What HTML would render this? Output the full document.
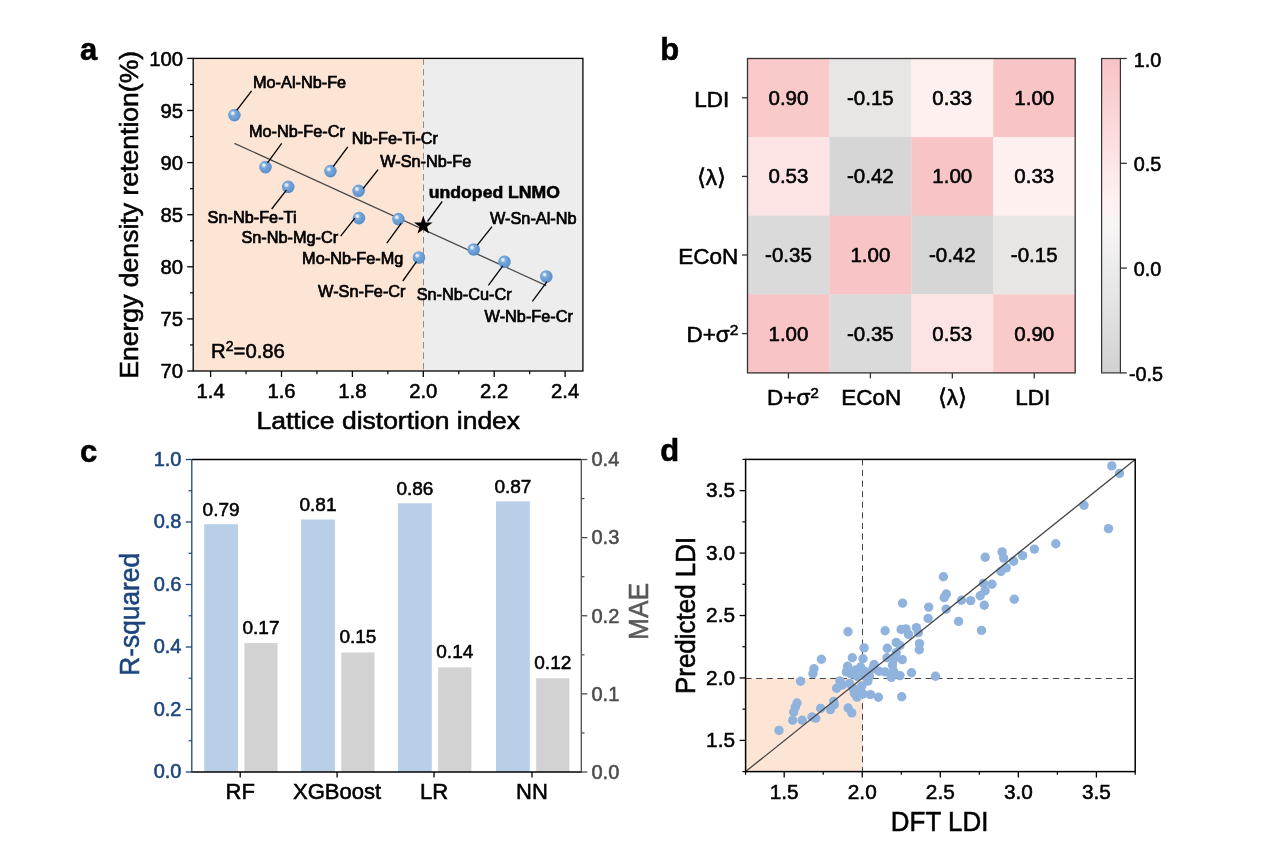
<!DOCTYPE html>
<html><head><meta charset="utf-8"><title>Figure</title>
<style>html,body{margin:0;padding:0;background:#fff}svg{display:block}text{font-family:"Liberation Sans",sans-serif}</style>
</head><body>
<svg width="1269" height="855" viewBox="0 0 1269 855" font-family="Liberation Sans, sans-serif">
<defs>
<radialGradient id="sph" cx="0.4" cy="0.38" r="0.65" fx="0.36" fy="0.34">
<stop offset="0" stop-color="#ffffff"/><stop offset="0.13" stop-color="#d3e4f5"/><stop offset="0.34" stop-color="#79a8da"/><stop offset="1" stop-color="#588dc9"/>
</radialGradient>
<linearGradient id="cb" x1="0" y1="0" x2="0" y2="1">
<stop offset="0" stop-color="#f9c2c5"/><stop offset="0.313" stop-color="#fde4e4"/><stop offset="0.447" stop-color="#fef1f0"/><stop offset="0.533" stop-color="#f8f5f5"/><stop offset="0.667" stop-color="#ecebeb"/><stop offset="0.767" stop-color="#e6e5e5"/><stop offset="1" stop-color="#d1d1d1"/>
</linearGradient>
</defs>
<rect x="0.00" y="0.00" width="1269.00" height="855.00" fill="#fff" stroke="none" stroke-width="0"/>
<rect x="193.20" y="58.40" width="230.10" height="312.60" fill="#fde5d5" stroke="none" stroke-width="0"/>
<rect x="423.30" y="58.40" width="159.60" height="312.60" fill="#ededed" stroke="none" stroke-width="0"/>
<line x1="423.50" y1="58.40" x2="423.50" y2="371.00" stroke="#8c8c8c" stroke-width="1" stroke-dasharray="6.5 4"/>
<line x1="234.40" y1="143.30" x2="546.30" y2="285.60" stroke="#4a4a4a" stroke-width="1.3"/>
<circle cx="234.4" cy="115.1" r="6.3" fill="url(#sph)"/>
<circle cx="265.5" cy="167.10000000000002" r="6.3" fill="url(#sph)"/>
<circle cx="288.2" cy="186.9" r="6.3" fill="url(#sph)"/>
<circle cx="330.4" cy="171.10000000000002" r="6.3" fill="url(#sph)"/>
<circle cx="358.6" cy="190.9" r="6.3" fill="url(#sph)"/>
<circle cx="359" cy="218.10000000000002" r="6.3" fill="url(#sph)"/>
<circle cx="398.4" cy="219.10000000000002" r="6.3" fill="url(#sph)"/>
<circle cx="418.9" cy="257.5" r="6.3" fill="url(#sph)"/>
<circle cx="473.7" cy="249.5" r="6.3" fill="url(#sph)"/>
<circle cx="504.5" cy="261.8" r="6.3" fill="url(#sph)"/>
<circle cx="546.3" cy="276.5" r="6.3" fill="url(#sph)"/>
<line x1="236.70" y1="110.40" x2="251.60" y2="90.80" stroke="#000" stroke-width="1.3"/>
<line x1="267.50" y1="162.90" x2="281.70" y2="143.30" stroke="#000" stroke-width="1.3"/>
<line x1="333.20" y1="166.50" x2="347.80" y2="146.90" stroke="#000" stroke-width="1.3"/>
<line x1="363.20" y1="188.50" x2="378.10" y2="169.60" stroke="#000" stroke-width="1.3"/>
<line x1="286.40" y1="190.10" x2="271.70" y2="209.00" stroke="#000" stroke-width="1.3"/>
<line x1="354.80" y1="218.20" x2="340.70" y2="236.10" stroke="#000" stroke-width="1.3"/>
<line x1="401.20" y1="223.40" x2="386.80" y2="243.20" stroke="#000" stroke-width="1.3"/>
<line x1="416.50" y1="261.70" x2="402.80" y2="281.00" stroke="#000" stroke-width="1.3"/>
<line x1="477.30" y1="245.10" x2="492.00" y2="226.70" stroke="#000" stroke-width="1.3"/>
<line x1="502.80" y1="265.90" x2="488.40" y2="285.30" stroke="#000" stroke-width="1.3"/>
<line x1="547.00" y1="281.70" x2="532.40" y2="301.40" stroke="#000" stroke-width="1.3"/>
<line x1="442.20" y1="201.50" x2="427.50" y2="221.50" stroke="#000" stroke-width="1.3"/>
<polygon points="423.30,215.80 425.59,222.44 432.62,222.57 427.01,226.81 429.06,233.53 423.30,229.50 417.54,233.53 419.59,226.81 413.98,222.57 421.01,222.44" fill="#000"/>
<text x="253.00" y="88.10" font-size="16.3" text-anchor="start" fill="#000" stroke="#000" stroke-width="0.7">Mo-Al-Nb-Fe</text>
<text x="249.00" y="137.30" font-size="16.3" text-anchor="start" fill="#000" stroke="#000" stroke-width="0.7">Mo-Nb-Fe-Cr</text>
<text x="351.80" y="144.30" font-size="16.3" text-anchor="start" fill="#000" stroke="#000" stroke-width="0.7">Nb-Fe-Ti-Cr</text>
<text x="380.20" y="167.30" font-size="16.3" text-anchor="start" fill="#000" stroke="#000" stroke-width="0.7">W-Sn-Nb-Fe</text>
<text x="207.60" y="223.30" font-size="16.3" text-anchor="start" fill="#000" stroke="#000" stroke-width="0.7">Sn-Nb-Fe-Ti</text>
<text x="241.40" y="243.10" font-size="16.3" text-anchor="start" fill="#000" stroke="#000" stroke-width="0.7">Sn-Nb-Mg-Cr</text>
<text x="302.10" y="264.10" font-size="16.3" text-anchor="start" fill="#000" stroke="#000" stroke-width="0.7">Mo-Nb-Fe-Mg</text>
<text x="318.10" y="297.40" font-size="16.3" text-anchor="start" fill="#000" stroke="#000" stroke-width="0.7">W-Sn-Fe-Cr</text>
<text x="490.00" y="224.20" font-size="16.3" text-anchor="start" fill="#000" stroke="#000" stroke-width="0.7">W-Sn-Al-Nb</text>
<text x="416.70" y="299.60" font-size="16.3" text-anchor="start" fill="#000" stroke="#000" stroke-width="0.7">Sn-Nb-Cu-Cr</text>
<text x="484.60" y="322.00" font-size="16.3" text-anchor="start" fill="#000" stroke="#000" stroke-width="0.7">W-Nb-Fe-Cr</text>
<text x="428.80" y="198.20" font-size="16.5" text-anchor="start" fill="#000" font-weight="bold" textLength="131.20" lengthAdjust="spacingAndGlyphs" stroke="#000" stroke-width="0.55">undoped LNMO</text>
<text x="211.1" y="358.1" font-size="20.3" stroke="#000" stroke-width="0.55">R<tspan font-size="14" dy="-7.2">2</tspan><tspan dy="7.2">=0.86</tspan></text>
<rect x="193.20" y="58.40" width="389.70" height="312.60" fill="none" stroke="#000" stroke-width="1.3"/>
<line x1="187.20" y1="371.00" x2="193.20" y2="371.00" stroke="#000" stroke-width="1.3"/>
<text x="183.00" y="378.10" font-size="20.3" text-anchor="end" fill="#000" stroke="#000" stroke-width="0.55">70</text>
<line x1="187.20" y1="318.90" x2="193.20" y2="318.90" stroke="#000" stroke-width="1.3"/>
<text x="183.00" y="326.00" font-size="20.3" text-anchor="end" fill="#000" stroke="#000" stroke-width="0.55">75</text>
<line x1="187.20" y1="266.80" x2="193.20" y2="266.80" stroke="#000" stroke-width="1.3"/>
<text x="183.00" y="273.90" font-size="20.3" text-anchor="end" fill="#000" stroke="#000" stroke-width="0.55">80</text>
<line x1="187.20" y1="214.70" x2="193.20" y2="214.70" stroke="#000" stroke-width="1.3"/>
<text x="183.00" y="221.80" font-size="20.3" text-anchor="end" fill="#000" stroke="#000" stroke-width="0.55">85</text>
<line x1="187.20" y1="162.60" x2="193.20" y2="162.60" stroke="#000" stroke-width="1.3"/>
<text x="183.00" y="169.70" font-size="20.3" text-anchor="end" fill="#000" stroke="#000" stroke-width="0.55">90</text>
<line x1="187.20" y1="110.50" x2="193.20" y2="110.50" stroke="#000" stroke-width="1.3"/>
<text x="183.00" y="117.60" font-size="20.3" text-anchor="end" fill="#000" stroke="#000" stroke-width="0.55">95</text>
<line x1="187.20" y1="58.40" x2="193.20" y2="58.40" stroke="#000" stroke-width="1.3"/>
<text x="183.00" y="65.50" font-size="20.3" text-anchor="end" fill="#000" stroke="#000" stroke-width="0.55">100</text>
<line x1="190.00" y1="344.95" x2="193.20" y2="344.95" stroke="#000" stroke-width="1.2"/>
<line x1="190.00" y1="292.85" x2="193.20" y2="292.85" stroke="#000" stroke-width="1.2"/>
<line x1="190.00" y1="240.75" x2="193.20" y2="240.75" stroke="#000" stroke-width="1.2"/>
<line x1="190.00" y1="188.65" x2="193.20" y2="188.65" stroke="#000" stroke-width="1.2"/>
<line x1="190.00" y1="136.55" x2="193.20" y2="136.55" stroke="#000" stroke-width="1.2"/>
<line x1="190.00" y1="84.45" x2="193.20" y2="84.45" stroke="#000" stroke-width="1.2"/>
<line x1="210.60" y1="371.00" x2="210.60" y2="377.00" stroke="#000" stroke-width="1.3"/>
<text x="210.60" y="398.00" font-size="20.3" text-anchor="middle" fill="#000" stroke="#000" stroke-width="0.55">1.4</text>
<line x1="281.50" y1="371.00" x2="281.50" y2="377.00" stroke="#000" stroke-width="1.3"/>
<text x="281.50" y="398.00" font-size="20.3" text-anchor="middle" fill="#000" stroke="#000" stroke-width="0.55">1.6</text>
<line x1="352.40" y1="371.00" x2="352.40" y2="377.00" stroke="#000" stroke-width="1.3"/>
<text x="352.40" y="398.00" font-size="20.3" text-anchor="middle" fill="#000" stroke="#000" stroke-width="0.55">1.8</text>
<line x1="423.30" y1="371.00" x2="423.30" y2="377.00" stroke="#000" stroke-width="1.3"/>
<text x="423.30" y="398.00" font-size="20.3" text-anchor="middle" fill="#000" stroke="#000" stroke-width="0.55">2.0</text>
<line x1="494.20" y1="371.00" x2="494.20" y2="377.00" stroke="#000" stroke-width="1.3"/>
<text x="494.20" y="398.00" font-size="20.3" text-anchor="middle" fill="#000" stroke="#000" stroke-width="0.55">2.2</text>
<line x1="565.10" y1="371.00" x2="565.10" y2="377.00" stroke="#000" stroke-width="1.3"/>
<text x="565.10" y="398.00" font-size="20.3" text-anchor="middle" fill="#000" stroke="#000" stroke-width="0.55">2.4</text>
<line x1="246.05" y1="371.00" x2="246.05" y2="374.20" stroke="#000" stroke-width="1.2"/>
<line x1="316.95" y1="371.00" x2="316.95" y2="374.20" stroke="#000" stroke-width="1.2"/>
<line x1="387.85" y1="371.00" x2="387.85" y2="374.20" stroke="#000" stroke-width="1.2"/>
<line x1="458.75" y1="371.00" x2="458.75" y2="374.20" stroke="#000" stroke-width="1.2"/>
<line x1="529.65" y1="371.00" x2="529.65" y2="374.20" stroke="#000" stroke-width="1.2"/>
<text x="388.30" y="429.10" font-size="24.2" text-anchor="middle" fill="#000" textLength="263.60" lengthAdjust="spacingAndGlyphs" stroke="#000" stroke-width="0.55">Lattice distortion index</text>
<text x="138.00" y="214.80" font-size="25" text-anchor="middle" fill="#000" textLength="328.00" lengthAdjust="spacingAndGlyphs" transform="rotate(-90 138.00 214.80)" stroke="#000" stroke-width="0.55">Energy density retention(%)</text>
<text x="80.00" y="59.80" font-size="31" text-anchor="start" fill="#000" font-weight="bold" stroke="#000" stroke-width="0.55">a</text>
<rect x="747.50" y="58.50" width="82.23" height="78.90" fill="#facacb" stroke="none" stroke-width="0"/>
<rect x="829.42" y="58.50" width="82.23" height="78.90" fill="#e8e6e5" stroke="none" stroke-width="0"/>
<rect x="911.35" y="58.50" width="82.23" height="78.90" fill="#fef0ef" stroke="none" stroke-width="0"/>
<rect x="993.28" y="58.50" width="82.23" height="78.90" fill="#f9c4c6" stroke="none" stroke-width="0"/>
<rect x="747.50" y="137.10" width="82.23" height="78.90" fill="#fde4e4" stroke="none" stroke-width="0"/>
<rect x="829.42" y="137.10" width="82.23" height="78.90" fill="#d6d6d6" stroke="none" stroke-width="0"/>
<rect x="911.35" y="137.10" width="82.23" height="78.90" fill="#f9c4c6" stroke="none" stroke-width="0"/>
<rect x="993.28" y="137.10" width="82.23" height="78.90" fill="#fef0ef" stroke="none" stroke-width="0"/>
<rect x="747.50" y="215.70" width="82.23" height="78.90" fill="#dadada" stroke="none" stroke-width="0"/>
<rect x="829.42" y="215.70" width="82.23" height="78.90" fill="#f9c4c6" stroke="none" stroke-width="0"/>
<rect x="911.35" y="215.70" width="82.23" height="78.90" fill="#d6d6d6" stroke="none" stroke-width="0"/>
<rect x="993.28" y="215.70" width="82.23" height="78.90" fill="#e8e6e5" stroke="none" stroke-width="0"/>
<rect x="747.50" y="294.30" width="82.23" height="78.90" fill="#f9c4c6" stroke="none" stroke-width="0"/>
<rect x="829.42" y="294.30" width="82.23" height="78.90" fill="#dadada" stroke="none" stroke-width="0"/>
<rect x="911.35" y="294.30" width="82.23" height="78.90" fill="#fde4e4" stroke="none" stroke-width="0"/>
<rect x="993.28" y="294.30" width="82.23" height="78.90" fill="#facacb" stroke="none" stroke-width="0"/>
<text x="788.46" y="104.80" font-size="20.5" text-anchor="middle" fill="#000" stroke="#000" stroke-width="0.55">0.90</text>
<text x="870.39" y="104.80" font-size="20.5" text-anchor="middle" fill="#000" stroke="#000" stroke-width="0.55">-0.15</text>
<text x="952.31" y="104.80" font-size="20.5" text-anchor="middle" fill="#000" stroke="#000" stroke-width="0.55">0.33</text>
<text x="1034.24" y="104.80" font-size="20.5" text-anchor="middle" fill="#000" stroke="#000" stroke-width="0.55">1.00</text>
<text x="788.46" y="183.40" font-size="20.5" text-anchor="middle" fill="#000" stroke="#000" stroke-width="0.55">0.53</text>
<text x="870.39" y="183.40" font-size="20.5" text-anchor="middle" fill="#000" stroke="#000" stroke-width="0.55">-0.42</text>
<text x="952.31" y="183.40" font-size="20.5" text-anchor="middle" fill="#000" stroke="#000" stroke-width="0.55">1.00</text>
<text x="1034.24" y="183.40" font-size="20.5" text-anchor="middle" fill="#000" stroke="#000" stroke-width="0.55">0.33</text>
<text x="788.46" y="262.00" font-size="20.5" text-anchor="middle" fill="#000" stroke="#000" stroke-width="0.55">-0.35</text>
<text x="870.39" y="262.00" font-size="20.5" text-anchor="middle" fill="#000" stroke="#000" stroke-width="0.55">1.00</text>
<text x="952.31" y="262.00" font-size="20.5" text-anchor="middle" fill="#000" stroke="#000" stroke-width="0.55">-0.42</text>
<text x="1034.24" y="262.00" font-size="20.5" text-anchor="middle" fill="#000" stroke="#000" stroke-width="0.55">-0.15</text>
<text x="788.46" y="340.60" font-size="20.5" text-anchor="middle" fill="#000" stroke="#000" stroke-width="0.55">1.00</text>
<text x="870.39" y="340.60" font-size="20.5" text-anchor="middle" fill="#000" stroke="#000" stroke-width="0.55">-0.35</text>
<text x="952.31" y="340.60" font-size="20.5" text-anchor="middle" fill="#000" stroke="#000" stroke-width="0.55">0.53</text>
<text x="1034.24" y="340.60" font-size="20.5" text-anchor="middle" fill="#000" stroke="#000" stroke-width="0.55">0.90</text>
<rect x="747.50" y="58.50" width="327.70" height="314.40" fill="none" stroke="#333" stroke-width="1.3"/>
<line x1="742.00" y1="97.80" x2="747.50" y2="97.80" stroke="#333" stroke-width="1.3"/>
<text x="729.30" y="106.60" font-size="22.5" text-anchor="end" fill="#000" stroke="#000" stroke-width="0.55">LDI</text>
<line x1="742.00" y1="176.40" x2="747.50" y2="176.40" stroke="#333" stroke-width="1.3"/>
<text x="726.00" y="185.20" font-size="22.5" text-anchor="end" fill="#000" stroke="#000" stroke-width="0.55">⟨λ⟩</text>
<line x1="742.00" y1="255.00" x2="747.50" y2="255.00" stroke="#333" stroke-width="1.3"/>
<text x="738.30" y="263.80" font-size="22.5" text-anchor="end" fill="#000" stroke="#000" stroke-width="0.55">ECoN</text>
<line x1="742.00" y1="333.60" x2="747.50" y2="333.60" stroke="#333" stroke-width="1.3"/>
<text x="738.3" y="342.40" font-size="22.5" text-anchor="end" stroke="#000" stroke-width="0.55">D+σ<tspan font-size="15.5" dy="-7.5">2</tspan></text>
<line x1="788.46" y1="372.90" x2="788.46" y2="378.40" stroke="#333" stroke-width="1.3"/>
<text x="767" y="405" font-size="22.5" text-anchor="start" stroke="#000" stroke-width="0.55">D+σ<tspan font-size="15.5" dy="-7.5">2</tspan></text>
<line x1="870.39" y1="372.90" x2="870.39" y2="378.40" stroke="#333" stroke-width="1.3"/>
<text x="871.19" y="405.00" font-size="22.5" text-anchor="middle" fill="#000" stroke="#000" stroke-width="0.55">ECoN</text>
<line x1="952.31" y1="372.90" x2="952.31" y2="378.40" stroke="#333" stroke-width="1.3"/>
<text x="952.31" y="405.00" font-size="22.5" text-anchor="middle" fill="#000" stroke="#000" stroke-width="0.55">⟨λ⟩</text>
<line x1="1034.24" y1="372.90" x2="1034.24" y2="378.40" stroke="#333" stroke-width="1.3"/>
<text x="1032.74" y="405.00" font-size="22.5" text-anchor="middle" fill="#000" stroke="#000" stroke-width="0.55">LDI</text>
<rect x="1101.60" y="58.50" width="18.80" height="314.40" fill="url(#cb)" stroke="#333" stroke-width="1.2"/>
<line x1="1120.40" y1="58.50" x2="1126.80" y2="58.50" stroke="#333" stroke-width="1.3"/>
<text x="1147.50" y="66.50" font-size="19.8" text-anchor="middle" fill="#000" stroke="#000" stroke-width="0.55">1.0</text>
<line x1="1120.40" y1="163.30" x2="1126.80" y2="163.30" stroke="#333" stroke-width="1.3"/>
<text x="1147.50" y="171.30" font-size="19.8" text-anchor="middle" fill="#000" stroke="#000" stroke-width="0.55">0.5</text>
<line x1="1120.40" y1="268.10" x2="1126.80" y2="268.10" stroke="#333" stroke-width="1.3"/>
<text x="1147.50" y="276.10" font-size="19.8" text-anchor="middle" fill="#000" stroke="#000" stroke-width="0.55">0.0</text>
<line x1="1120.40" y1="372.90" x2="1126.80" y2="372.90" stroke="#333" stroke-width="1.3"/>
<text x="1146.00" y="380.90" font-size="19.8" text-anchor="middle" fill="#000" stroke="#000" stroke-width="0.55">-0.5</text>
<text x="660.30" y="60.20" font-size="31" text-anchor="start" fill="#000" font-weight="bold" stroke="#000" stroke-width="0.55">b</text>
<rect x="204.20" y="524.19" width="33.80" height="247.81" fill="#b9cfe8" stroke="none" stroke-width="0"/>
<text x="221.10" y="515.89" font-size="19" text-anchor="middle" fill="#000" stroke="#000" stroke-width="0.55">0.79</text>
<rect x="244.40" y="643.09" width="33.20" height="128.91" fill="#d2d2d2" stroke="none" stroke-width="0"/>
<text x="261.00" y="633.59" font-size="19" text-anchor="middle" fill="#000" stroke="#000" stroke-width="0.55">0.17</text>
<line x1="240.20" y1="772.00" x2="240.20" y2="777.50" stroke="#000" stroke-width="1.3"/>
<text x="240.20" y="798.80" font-size="22" text-anchor="middle" fill="#000" stroke="#000" stroke-width="0.55">RF</text>
<rect x="301.10" y="519.50" width="33.80" height="252.50" fill="#b9cfe8" stroke="none" stroke-width="0"/>
<text x="318.00" y="511.20" font-size="19" text-anchor="middle" fill="#000" stroke="#000" stroke-width="0.55">0.81</text>
<rect x="341.30" y="652.47" width="33.20" height="119.53" fill="#d2d2d2" stroke="none" stroke-width="0"/>
<text x="357.90" y="642.97" font-size="19" text-anchor="middle" fill="#000" stroke="#000" stroke-width="0.55">0.15</text>
<line x1="337.10" y1="772.00" x2="337.10" y2="777.50" stroke="#000" stroke-width="1.3"/>
<text x="337.10" y="798.80" font-size="22" text-anchor="middle" fill="#000" stroke="#000" stroke-width="0.55">XGBoost</text>
<rect x="398.00" y="503.25" width="33.80" height="268.75" fill="#b9cfe8" stroke="none" stroke-width="0"/>
<text x="414.90" y="494.95" font-size="19" text-anchor="middle" fill="#000" stroke="#000" stroke-width="0.55">0.86</text>
<rect x="438.20" y="667.31" width="33.20" height="104.69" fill="#d2d2d2" stroke="none" stroke-width="0"/>
<text x="454.80" y="657.81" font-size="19" text-anchor="middle" fill="#000" stroke="#000" stroke-width="0.55">0.14</text>
<line x1="434.00" y1="772.00" x2="434.00" y2="777.50" stroke="#000" stroke-width="1.3"/>
<text x="434.00" y="798.80" font-size="22" text-anchor="middle" fill="#000" stroke="#000" stroke-width="0.55">LR</text>
<rect x="496.00" y="501.38" width="33.80" height="270.62" fill="#b9cfe8" stroke="none" stroke-width="0"/>
<text x="512.90" y="493.07" font-size="19" text-anchor="middle" fill="#000" stroke="#000" stroke-width="0.55">0.87</text>
<rect x="536.20" y="678.25" width="33.20" height="93.75" fill="#d2d2d2" stroke="none" stroke-width="0"/>
<text x="552.80" y="668.75" font-size="19" text-anchor="middle" fill="#000" stroke="#000" stroke-width="0.55">0.12</text>
<line x1="532.00" y1="772.00" x2="532.00" y2="777.50" stroke="#000" stroke-width="1.3"/>
<text x="532.00" y="798.80" font-size="22" text-anchor="middle" fill="#000" stroke="#000" stroke-width="0.55">NN</text>
<line x1="191.80" y1="459.50" x2="581.30" y2="459.50" stroke="#000" stroke-width="1.3"/>
<line x1="191.20" y1="772.00" x2="581.90" y2="772.00" stroke="#000" stroke-width="1.5"/>
<line x1="191.80" y1="459.50" x2="191.80" y2="772.00" stroke="#1b457c" stroke-width="1.3"/>
<line x1="581.30" y1="459.50" x2="581.30" y2="772.00" stroke="#4d4d4d" stroke-width="1.3"/>
<line x1="185.80" y1="772.00" x2="191.80" y2="772.00" stroke="#1b457c" stroke-width="1.3"/>
<text x="181.50" y="778.20" font-size="20" text-anchor="end" fill="#1b457c" stroke="#1b457c" stroke-width="0.55">0.0</text>
<line x1="188.60" y1="740.75" x2="191.80" y2="740.75" stroke="#1b457c" stroke-width="1.2"/>
<line x1="185.80" y1="709.50" x2="191.80" y2="709.50" stroke="#1b457c" stroke-width="1.3"/>
<text x="181.50" y="715.70" font-size="20" text-anchor="end" fill="#1b457c" stroke="#1b457c" stroke-width="0.55">0.2</text>
<line x1="188.60" y1="678.25" x2="191.80" y2="678.25" stroke="#1b457c" stroke-width="1.2"/>
<line x1="185.80" y1="647.00" x2="191.80" y2="647.00" stroke="#1b457c" stroke-width="1.3"/>
<text x="181.50" y="653.20" font-size="20" text-anchor="end" fill="#1b457c" stroke="#1b457c" stroke-width="0.55">0.4</text>
<line x1="188.60" y1="615.75" x2="191.80" y2="615.75" stroke="#1b457c" stroke-width="1.2"/>
<line x1="185.80" y1="584.50" x2="191.80" y2="584.50" stroke="#1b457c" stroke-width="1.3"/>
<text x="181.50" y="590.70" font-size="20" text-anchor="end" fill="#1b457c" stroke="#1b457c" stroke-width="0.55">0.6</text>
<line x1="188.60" y1="553.25" x2="191.80" y2="553.25" stroke="#1b457c" stroke-width="1.2"/>
<line x1="185.80" y1="522.00" x2="191.80" y2="522.00" stroke="#1b457c" stroke-width="1.3"/>
<text x="181.50" y="528.20" font-size="20" text-anchor="end" fill="#1b457c" stroke="#1b457c" stroke-width="0.55">0.8</text>
<line x1="188.60" y1="490.75" x2="191.80" y2="490.75" stroke="#1b457c" stroke-width="1.2"/>
<line x1="185.80" y1="459.50" x2="191.80" y2="459.50" stroke="#1b457c" stroke-width="1.3"/>
<text x="181.50" y="465.70" font-size="20" text-anchor="end" fill="#1b457c" stroke="#1b457c" stroke-width="0.55">1.0</text>
<line x1="581.30" y1="772.00" x2="587.30" y2="772.00" stroke="#4d4d4d" stroke-width="1.3"/>
<text x="591.50" y="778.80" font-size="20" text-anchor="start" fill="#4d4d4d" stroke="#4d4d4d" stroke-width="0.55">0.0</text>
<line x1="581.30" y1="732.94" x2="584.50" y2="732.94" stroke="#4d4d4d" stroke-width="1.2"/>
<line x1="581.30" y1="693.88" x2="587.30" y2="693.88" stroke="#4d4d4d" stroke-width="1.3"/>
<text x="591.50" y="700.67" font-size="20" text-anchor="start" fill="#4d4d4d" stroke="#4d4d4d" stroke-width="0.55">0.1</text>
<line x1="581.30" y1="654.81" x2="584.50" y2="654.81" stroke="#4d4d4d" stroke-width="1.2"/>
<line x1="581.30" y1="615.75" x2="587.30" y2="615.75" stroke="#4d4d4d" stroke-width="1.3"/>
<text x="591.50" y="622.55" font-size="20" text-anchor="start" fill="#4d4d4d" stroke="#4d4d4d" stroke-width="0.55">0.2</text>
<line x1="581.30" y1="576.69" x2="584.50" y2="576.69" stroke="#4d4d4d" stroke-width="1.2"/>
<line x1="581.30" y1="537.62" x2="587.30" y2="537.62" stroke="#4d4d4d" stroke-width="1.3"/>
<text x="591.50" y="544.42" font-size="20" text-anchor="start" fill="#4d4d4d" stroke="#4d4d4d" stroke-width="0.55">0.3</text>
<line x1="581.30" y1="498.56" x2="584.50" y2="498.56" stroke="#4d4d4d" stroke-width="1.2"/>
<line x1="581.30" y1="459.50" x2="587.30" y2="459.50" stroke="#4d4d4d" stroke-width="1.3"/>
<text x="591.50" y="466.30" font-size="20" text-anchor="start" fill="#4d4d4d" stroke="#4d4d4d" stroke-width="0.55">0.4</text>
<text x="138.80" y="614.30" font-size="27" text-anchor="middle" fill="#1b457c" textLength="122.80" lengthAdjust="spacingAndGlyphs" transform="rotate(-90 138.80 614.30)" stroke="#1b457c" stroke-width="0.55">R-squared</text>
<text x="647.80" y="611.50" font-size="27" text-anchor="middle" fill="#595959" textLength="57.00" lengthAdjust="spacingAndGlyphs" transform="rotate(-90 647.80 611.50)" stroke="#595959" stroke-width="0.55">MAE</text>
<text x="80.00" y="461.60" font-size="31" text-anchor="start" fill="#000" font-weight="bold" stroke="#000" stroke-width="0.55">c</text>
<rect x="745.60" y="678.50" width="116.90" height="93.10" fill="#fde5d5" stroke="none" stroke-width="0"/>
<line x1="862.50" y1="459.40" x2="862.50" y2="771.60" stroke="#444" stroke-width="1" stroke-dasharray="6 4.6"/>
<line x1="745.60" y1="678.50" x2="1135.20" y2="678.50" stroke="#444" stroke-width="1" stroke-dasharray="6 4.6"/>
<circle cx="779.0" cy="730.4" r="4.7" fill="#8fb3dc"/>
<circle cx="792.7" cy="720.2" r="4.7" fill="#8fb3dc"/>
<circle cx="793.7" cy="712.0" r="4.7" fill="#8fb3dc"/>
<circle cx="795.3" cy="707.1" r="4.7" fill="#8fb3dc"/>
<circle cx="797.0" cy="703.0" r="4.7" fill="#8fb3dc"/>
<circle cx="802.2" cy="720.2" r="4.7" fill="#8fb3dc"/>
<circle cx="800.6" cy="681.3" r="4.7" fill="#8fb3dc"/>
<circle cx="812.9" cy="673.6" r="4.7" fill="#8fb3dc"/>
<circle cx="814.0" cy="668.7" r="4.7" fill="#8fb3dc"/>
<circle cx="821.4" cy="659.3" r="4.7" fill="#8fb3dc"/>
<circle cx="812.0" cy="717.0" r="4.7" fill="#8fb3dc"/>
<circle cx="815.7" cy="718.3" r="4.7" fill="#8fb3dc"/>
<circle cx="820.7" cy="708.4" r="4.7" fill="#8fb3dc"/>
<circle cx="830.4" cy="709.6" r="4.7" fill="#8fb3dc"/>
<circle cx="833.7" cy="701.4" r="4.7" fill="#8fb3dc"/>
<circle cx="834.2" cy="704.7" r="4.7" fill="#8fb3dc"/>
<circle cx="836.6" cy="688.3" r="4.7" fill="#8fb3dc"/>
<circle cx="839.9" cy="680.9" r="4.7" fill="#8fb3dc"/>
<circle cx="842.3" cy="685.0" r="4.7" fill="#8fb3dc"/>
<circle cx="848.1" cy="708.0" r="4.7" fill="#8fb3dc"/>
<circle cx="851.8" cy="712.9" r="4.7" fill="#8fb3dc"/>
<circle cx="852.3" cy="657.7" r="4.7" fill="#8fb3dc"/>
<circle cx="864.1" cy="647.9" r="4.7" fill="#8fb3dc"/>
<circle cx="848.0" cy="631.7" r="4.7" fill="#8fb3dc"/>
<circle cx="863.0" cy="658.7" r="4.7" fill="#8fb3dc"/>
<circle cx="847.6" cy="666.3" r="4.7" fill="#8fb3dc"/>
<circle cx="846.4" cy="671.9" r="4.7" fill="#8fb3dc"/>
<circle cx="850.7" cy="673.7" r="4.7" fill="#8fb3dc"/>
<circle cx="855.6" cy="670.0" r="4.7" fill="#8fb3dc"/>
<circle cx="860.5" cy="667.0" r="4.7" fill="#8fb3dc"/>
<circle cx="861.8" cy="672.5" r="4.7" fill="#8fb3dc"/>
<circle cx="856.9" cy="676.2" r="4.7" fill="#8fb3dc"/>
<circle cx="849.5" cy="683.5" r="4.7" fill="#8fb3dc"/>
<circle cx="853.2" cy="688.5" r="4.7" fill="#8fb3dc"/>
<circle cx="856.9" cy="697.1" r="4.7" fill="#8fb3dc"/>
<circle cx="854.4" cy="693.4" r="4.7" fill="#8fb3dc"/>
<circle cx="861.8" cy="686.0" r="4.7" fill="#8fb3dc"/>
<circle cx="867.9" cy="681.1" r="4.7" fill="#8fb3dc"/>
<circle cx="865.5" cy="676.8" r="4.7" fill="#8fb3dc"/>
<circle cx="863.0" cy="694.0" r="4.7" fill="#8fb3dc"/>
<circle cx="870.4" cy="694.6" r="4.7" fill="#8fb3dc"/>
<circle cx="878.4" cy="697.3" r="4.7" fill="#8fb3dc"/>
<circle cx="874.1" cy="664.5" r="4.7" fill="#8fb3dc"/>
<circle cx="872.8" cy="668.8" r="4.7" fill="#8fb3dc"/>
<circle cx="879.0" cy="671.3" r="4.7" fill="#8fb3dc"/>
<circle cx="885.1" cy="671.9" r="4.7" fill="#8fb3dc"/>
<circle cx="891.3" cy="677.4" r="4.7" fill="#8fb3dc"/>
<circle cx="899.9" cy="675.6" r="4.7" fill="#8fb3dc"/>
<circle cx="911.5" cy="672.7" r="4.7" fill="#8fb3dc"/>
<circle cx="901.7" cy="696.8" r="4.7" fill="#8fb3dc"/>
<circle cx="935.5" cy="676.2" r="4.7" fill="#8fb3dc"/>
<circle cx="893.7" cy="671.3" r="4.7" fill="#8fb3dc"/>
<circle cx="892.5" cy="665.1" r="4.7" fill="#8fb3dc"/>
<circle cx="887.0" cy="657.7" r="4.7" fill="#8fb3dc"/>
<circle cx="893.7" cy="659.0" r="4.7" fill="#8fb3dc"/>
<circle cx="902.3" cy="659.6" r="4.7" fill="#8fb3dc"/>
<circle cx="896.2" cy="652.8" r="4.7" fill="#8fb3dc"/>
<circle cx="887.3" cy="648.2" r="4.7" fill="#8fb3dc"/>
<circle cx="896.2" cy="642.4" r="4.7" fill="#8fb3dc"/>
<circle cx="899.9" cy="645.5" r="4.7" fill="#8fb3dc"/>
<circle cx="919.5" cy="643.6" r="4.7" fill="#8fb3dc"/>
<circle cx="919.3" cy="649.8" r="4.7" fill="#8fb3dc"/>
<circle cx="885.1" cy="630.7" r="4.7" fill="#8fb3dc"/>
<circle cx="901.1" cy="629.5" r="4.7" fill="#8fb3dc"/>
<circle cx="906.0" cy="628.9" r="4.7" fill="#8fb3dc"/>
<circle cx="908.5" cy="634.4" r="4.7" fill="#8fb3dc"/>
<circle cx="916.4" cy="627.6" r="4.7" fill="#8fb3dc"/>
<circle cx="918.3" cy="632.6" r="4.7" fill="#8fb3dc"/>
<circle cx="928.1" cy="618.4" r="4.7" fill="#8fb3dc"/>
<circle cx="928.7" cy="607.1" r="4.7" fill="#8fb3dc"/>
<circle cx="902.6" cy="603.1" r="4.7" fill="#8fb3dc"/>
<circle cx="943.4" cy="576.8" r="4.7" fill="#8fb3dc"/>
<circle cx="946.3" cy="594.0" r="4.7" fill="#8fb3dc"/>
<circle cx="944.2" cy="597.6" r="4.7" fill="#8fb3dc"/>
<circle cx="946.2" cy="609.1" r="4.7" fill="#8fb3dc"/>
<circle cx="961.4" cy="600.3" r="4.7" fill="#8fb3dc"/>
<circle cx="970.7" cy="600.6" r="4.7" fill="#8fb3dc"/>
<circle cx="958.6" cy="621.4" r="4.7" fill="#8fb3dc"/>
<circle cx="981.5" cy="630.4" r="4.7" fill="#8fb3dc"/>
<circle cx="984.3" cy="605.2" r="4.7" fill="#8fb3dc"/>
<circle cx="980.2" cy="595.7" r="4.7" fill="#8fb3dc"/>
<circle cx="985.1" cy="590.8" r="4.7" fill="#8fb3dc"/>
<circle cx="983.5" cy="583.4" r="4.7" fill="#8fb3dc"/>
<circle cx="992.0" cy="584.2" r="4.7" fill="#8fb3dc"/>
<circle cx="1014.3" cy="599.3" r="4.7" fill="#8fb3dc"/>
<circle cx="1111.8" cy="465.9" r="4.7" fill="#8fb3dc"/>
<circle cx="1119.5" cy="473.4" r="4.7" fill="#8fb3dc"/>
<circle cx="1084.0" cy="505.3" r="4.7" fill="#8fb3dc"/>
<circle cx="1108.5" cy="528.6" r="4.7" fill="#8fb3dc"/>
<circle cx="1055.8" cy="543.7" r="4.7" fill="#8fb3dc"/>
<circle cx="1034.4" cy="549.1" r="4.7" fill="#8fb3dc"/>
<circle cx="1022.6" cy="555.6" r="4.7" fill="#8fb3dc"/>
<circle cx="1013.6" cy="561.3" r="4.7" fill="#8fb3dc"/>
<circle cx="1002.1" cy="551.9" r="4.7" fill="#8fb3dc"/>
<circle cx="1003.7" cy="558.1" r="4.7" fill="#8fb3dc"/>
<circle cx="985.2" cy="557.3" r="4.7" fill="#8fb3dc"/>
<circle cx="1006.2" cy="567.9" r="4.7" fill="#8fb3dc"/>
<circle cx="1001.0" cy="571.5" r="4.7" fill="#8fb3dc"/>
<circle cx="864.4" cy="671.1" r="4.7" fill="#8fb3dc"/>
<circle cx="857.9" cy="692.4" r="4.7" fill="#8fb3dc"/>
<circle cx="869.4" cy="676.0" r="4.7" fill="#8fb3dc"/>
<line x1="745.60" y1="771.60" x2="1135.20" y2="459.40" stroke="#444" stroke-width="1.3"/>
<rect x="745.60" y="459.40" width="389.60" height="312.20" fill="none" stroke="#000" stroke-width="1.5"/>
<line x1="784.20" y1="771.60" x2="784.20" y2="777.60" stroke="#000" stroke-width="1.3"/>
<text x="784.20" y="798.90" font-size="20.8" text-anchor="middle" fill="#000" stroke="#000" stroke-width="0.55">1.5</text>
<line x1="739.60" y1="740.40" x2="745.60" y2="740.40" stroke="#000" stroke-width="1.3"/>
<text x="735.00" y="747.20" font-size="20.8" text-anchor="end" fill="#000" stroke="#000" stroke-width="0.55">1.5</text>
<line x1="862.25" y1="771.60" x2="862.25" y2="777.60" stroke="#000" stroke-width="1.3"/>
<text x="862.25" y="798.90" font-size="20.8" text-anchor="middle" fill="#000" stroke="#000" stroke-width="0.55">2.0</text>
<line x1="739.60" y1="677.96" x2="745.60" y2="677.96" stroke="#000" stroke-width="1.3"/>
<text x="735.00" y="684.76" font-size="20.8" text-anchor="end" fill="#000" stroke="#000" stroke-width="0.55">2.0</text>
<line x1="940.30" y1="771.60" x2="940.30" y2="777.60" stroke="#000" stroke-width="1.3"/>
<text x="940.30" y="798.90" font-size="20.8" text-anchor="middle" fill="#000" stroke="#000" stroke-width="0.55">2.5</text>
<line x1="739.60" y1="615.52" x2="745.60" y2="615.52" stroke="#000" stroke-width="1.3"/>
<text x="735.00" y="622.32" font-size="20.8" text-anchor="end" fill="#000" stroke="#000" stroke-width="0.55">2.5</text>
<line x1="1018.35" y1="771.60" x2="1018.35" y2="777.60" stroke="#000" stroke-width="1.3"/>
<text x="1018.35" y="798.90" font-size="20.8" text-anchor="middle" fill="#000" stroke="#000" stroke-width="0.55">3.0</text>
<line x1="739.60" y1="553.08" x2="745.60" y2="553.08" stroke="#000" stroke-width="1.3"/>
<text x="735.00" y="559.88" font-size="20.8" text-anchor="end" fill="#000" stroke="#000" stroke-width="0.55">3.0</text>
<line x1="1096.40" y1="771.60" x2="1096.40" y2="777.60" stroke="#000" stroke-width="1.3"/>
<text x="1096.40" y="798.90" font-size="20.8" text-anchor="middle" fill="#000" stroke="#000" stroke-width="0.55">3.5</text>
<line x1="739.60" y1="490.64" x2="745.60" y2="490.64" stroke="#000" stroke-width="1.3"/>
<text x="735.00" y="497.44" font-size="20.8" text-anchor="end" fill="#000" stroke="#000" stroke-width="0.55">3.5</text>
<line x1="823.23" y1="771.60" x2="823.23" y2="774.80" stroke="#000" stroke-width="1.2"/>
<line x1="742.40" y1="709.18" x2="745.60" y2="709.18" stroke="#000" stroke-width="1.2"/>
<line x1="901.28" y1="771.60" x2="901.28" y2="774.80" stroke="#000" stroke-width="1.2"/>
<line x1="742.40" y1="646.74" x2="745.60" y2="646.74" stroke="#000" stroke-width="1.2"/>
<line x1="979.33" y1="771.60" x2="979.33" y2="774.80" stroke="#000" stroke-width="1.2"/>
<line x1="742.40" y1="584.30" x2="745.60" y2="584.30" stroke="#000" stroke-width="1.2"/>
<line x1="1057.38" y1="771.60" x2="1057.38" y2="774.80" stroke="#000" stroke-width="1.2"/>
<line x1="742.40" y1="521.86" x2="745.60" y2="521.86" stroke="#000" stroke-width="1.2"/>
<line x1="745.60" y1="771.60" x2="745.60" y2="774.80" stroke="#000" stroke-width="1.2"/>
<line x1="1135.20" y1="771.60" x2="1135.20" y2="774.80" stroke="#000" stroke-width="1.2"/>
<line x1="742.40" y1="771.60" x2="745.60" y2="771.60" stroke="#000" stroke-width="1.2"/>
<line x1="742.40" y1="459.40" x2="745.60" y2="459.40" stroke="#000" stroke-width="1.2"/>
<text x="939.60" y="831.20" font-size="27" text-anchor="middle" fill="#000" textLength="97.50" lengthAdjust="spacingAndGlyphs" stroke="#000" stroke-width="0.55">DFT LDI</text>
<text x="694.60" y="615.40" font-size="27" text-anchor="middle" fill="#000" textLength="157.20" lengthAdjust="spacingAndGlyphs" transform="rotate(-90 694.60 615.40)" stroke="#000" stroke-width="0.55">Predicted LDI</text>
<text x="660.30" y="460.80" font-size="31" text-anchor="start" fill="#000" font-weight="bold" stroke="#000" stroke-width="0.55">d</text>
</svg>
</body></html>
